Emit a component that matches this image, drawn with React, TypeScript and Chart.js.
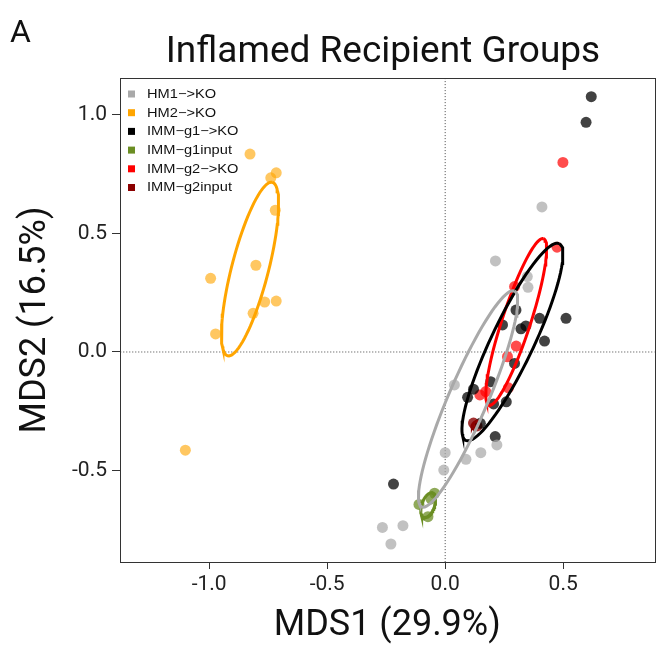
import React, { useEffect, useRef } from "react";
import { Chart, registerables } from "chart.js";

Chart.register(...registerables);

// ---- Data ----
const groupNames = ["HM1\u2212>KO", "HM2\u2212>KO", "IMM\u2212g1\u2212>KO", "IMM\u2212g1input", "IMM\u2212g2\u2212>KO", "IMM\u2212g2input"];
const legendColors = ["#A9A9A9", "#FFA500", "#000000", "#6B8E23", "#FF0000", "#8B0000"];
const pointColors = [
  "rgba(169,169,169,0.72)",
  "rgba(255,165,0,0.62)",
  "rgba(0,0,0,0.74)",
  "rgba(107,142,35,0.75)",
  "rgba(255,0,0,0.7)",
  "rgba(139,0,0,0.8)",
];

const hm1X = [0.410, 0.213, 0.348, 0.351, 0.039, 0.219, 0.000, 0.151, 0.088, -0.006, -0.266, -0.179, -0.230];
const hm1Y = [0.612, 0.384, 0.318, 0.273, -0.139, -0.392, -0.425, -0.425, -0.453, -0.498, -0.740, -0.733, -0.810];

const hm2X = [-0.827, -0.716, -0.739, -0.720, -0.802, -0.994, -0.765, -0.716, -0.814, -0.973, -1.101];
const hm2Y = [0.835, 0.756, 0.735, 0.598, 0.366, 0.311, 0.211, 0.215, 0.163, 0.076, -0.414];

const g1X = [0.619, 0.597, 0.300, 0.243, 0.321, 0.342, 0.400, 0.512, 0.421, 0.294, 0.193, 0.120, 0.095, 0.259, 0.205, 0.149, 0.212, -0.219];
const g1Y = [1.077, 0.969, 0.177, 0.114, 0.098, 0.110, 0.142, 0.142, 0.046, -0.048, -0.125, -0.157, -0.191, -0.210, -0.219, -0.301, -0.357, -0.557];

const g1inX = [-0.111, -0.045, -0.073, -0.060];
const g1inY = [-0.643, -0.596, -0.695, -0.620];

const g2X = [0.499, 0.474, 0.294, 0.301, 0.264, 0.268, 0.172, 0.147];
const g2Y = [0.800, 0.442, 0.276, 0.025, -0.020, -0.151, -0.167, -0.181];

const g2inX = [0.120, 0.135];
const g2inY = [-0.300, -0.312];

// ellipse parameters per group: centre x, centre y, semi-major, semi-minor, angle (deg)
const ellCX = [0.097, -0.827, 0.285, -0.072, 0.301, 0.127];
const ellCY = [-0.198, 0.350, 0.042, -0.646, 0.127, -0.306];
const ellA = [0.496, 0.378, 0.46, 0.055, 0.37, 0.018];
const ellB = [0.083, 0.078, 0.09, 0.027, 0.06, 0.009];
const ellAng = [66.7, 75.5, 64.5, 70, 71.8, 45];

const xTicks = [-1.0, -0.5, 0.0, 0.5];
const yTicks = [-0.5, 0.0, 0.5, 1.0];
const xMin = -1.378, xMax = 0.887;
const yMin = -0.886, yMax = 1.156;

const groupXs = [hm1X, hm2X, g1X, g1inX, g2X, g2inX];
const groupYs = [hm1Y, hm2Y, g1Y, g1inY, g2Y, g2inY];

function ellipsePoints(cx: number, cy: number, a: number, b: number, deg: number) {
  const t = (deg * Math.PI) / 180;
  const pts: { x: number; y: number }[] = [];
  const n = 90;
  for (let i = 0; i <= n; i++) {
    const th = (i / n) * 2 * Math.PI;
    const ex = a * Math.cos(th);
    const ey = b * Math.sin(th);
    pts.push({ x: cx + ex * Math.cos(t) - ey * Math.sin(t), y: cy + ex * Math.sin(t) + ey * Math.cos(t) });
  }
  return pts;
}

const decorPlugin = {
  id: "decor",
  afterDraw(chart: any) {
    const ctx = chart.ctx;
    const ca = chart.chartArea;
    ctx.save();
    // frame
    ctx.strokeStyle = "#333";
    ctx.lineWidth = 1;
    ctx.strokeRect(Math.round(ca.left) + 0.5, Math.round(ca.top) + 0.5, Math.round(ca.right - ca.left), Math.round(ca.bottom - ca.top));
    // title
    ctx.fillStyle = "#111";
    ctx.font = '37px Roboto';
    ctx.textAlign = "center";
    ctx.textBaseline = "alphabetic";
    ctx.fillText("Inflamed Recipient Groups", 383, 62);
    // panel letter
    ctx.font = '32px Roboto';
    ctx.textAlign = "left";
    ctx.fillText("A", 10, 42);
    // legend
    ctx.font = '12.5px "Liberation Sans", Arial, sans-serif';
    ctx.textBaseline = "middle";
    groupNames.forEach((g, i) => {
      const y = ca.top + 16 + i * 18.7;
      ctx.fillStyle = legendColors[i];
      ctx.fillRect(ca.left + 8, y - 3.5, 7, 7);
      ctx.fillStyle = "#111";
      ctx.save();
      ctx.translate(ca.left + 27, y + 0.5);
      ctx.scale(1.17, 1);
      ctx.fillText(g, 0, 0);
      ctx.restore();
    });
    ctx.restore();
  },
};

export default function App() {
  const ref = useRef<HTMLCanvasElement | null>(null);
  useEffect(() => {
    if (!ref.current) return;
    const datasets: any[] = [];
    // ellipses (on top)
    for (let i = 0; i < groupNames.length; i++) {
      datasets.push({
        label: groupNames[i] + " ellipse",
        data: ellipsePoints(ellCX[i], ellCY[i], ellA[i], ellB[i], ellAng[i]),
        showLine: true,
        borderColor: legendColors[i],
        borderWidth: 3,
        pointRadius: 0,
        fill: false,
        tension: 0,
        order: 0,
      });
    }
    // points
    for (let i = 0; i < groupNames.length; i++) {
      datasets.push({
        label: groupNames[i],
        data: groupXs[i].map((x, j) => ({ x, y: groupYs[i][j] })),
        backgroundColor: pointColors[i],
        borderWidth: 0,
        pointRadius: 5.5,
        showLine: false,
        order: 1,
      });
    }
    // zero reference lines
    datasets.push({
      label: "zeroX",
      data: [{ x: 0, y: -5 }, { x: 0, y: 5 }],
      showLine: true,
      borderColor: "#444",
      borderWidth: 1,
      borderDash: [1, 2],
      pointRadius: 0,
      order: 2,
    });
    datasets.push({
      label: "zeroY",
      data: [{ x: -5, y: 0 }, { x: 5, y: 0 }],
      showLine: true,
      borderColor: "#444",
      borderWidth: 1,
      borderDash: [1, 2],
      pointRadius: 0,
      order: 2,
    });

    const chart = new Chart(ref.current, {
      type: "scatter",
      data: { datasets },
      options: {
        animation: false,
        responsive: false,
        maintainAspectRatio: false,
        layout: { padding: { left: 0, right: 2, top: 78, bottom: 0 } },
        plugins: { legend: { display: false }, tooltip: { enabled: false }, title: { display: false } },
        scales: {
          x: {
            type: "linear",
            min: xMin,
            max: xMax,
            afterBuildTicks: (s: any) => {
              s.ticks = xTicks.map((v) => ({ value: v }));
            },
            afterFit: (s: any) => {
              s.height = 88;
            },
            ticks: {
              callback: (v: any) => Number(v).toFixed(1),
              font: { family: "Roboto", size: 21 },
              color: "#222",
              padding: 3,
              maxRotation: 0,
              autoSkip: false,
            },
            grid: { drawOnChartArea: false, drawTicks: true, tickLength: 7, color: "#333" },
            border: { color: "#333" },
            title: {
              display: true,
              text: "MDS1 (29.9%)",
              font: { family: "Roboto", size: 36 },
              color: "#111",
              padding: { top: 0, bottom: 2 },
            },
          },
          y: {
            type: "linear",
            min: yMin,
            max: yMax,
            afterBuildTicks: (s: any) => {
              s.ticks = yTicks.map((v) => ({ value: v }));
            },
            afterFit: (s: any) => {
              s.width = 120;
            },
            ticks: {
              callback: (v: any) => Number(v).toFixed(1),
              font: { family: "Roboto", size: 21 },
              color: "#222",
              padding: 5,
              autoSkip: false,
            },
            grid: { drawOnChartArea: false, drawTicks: true, tickLength: 8, color: "#333" },
            border: { color: "#333" },
            title: {
              display: true,
              text: "MDS2 (16.5%)",
              font: { family: "Roboto", size: 36 },
              color: "#111",
              padding: { top: 14, bottom: 0 },
            },
          },
        },
      },
      plugins: [decorPlugin],
    } as any);
    return () => chart.destroy();
  }, []);

  return (
    <div style={{ position: "fixed", left: 0, top: 0, width: 660, height: 650, background: "#fff" }}>
      <canvas ref={ref} width={660} height={650} style={{ display: "block", width: 660, height: 650 }} />
    </div>
  );
}
